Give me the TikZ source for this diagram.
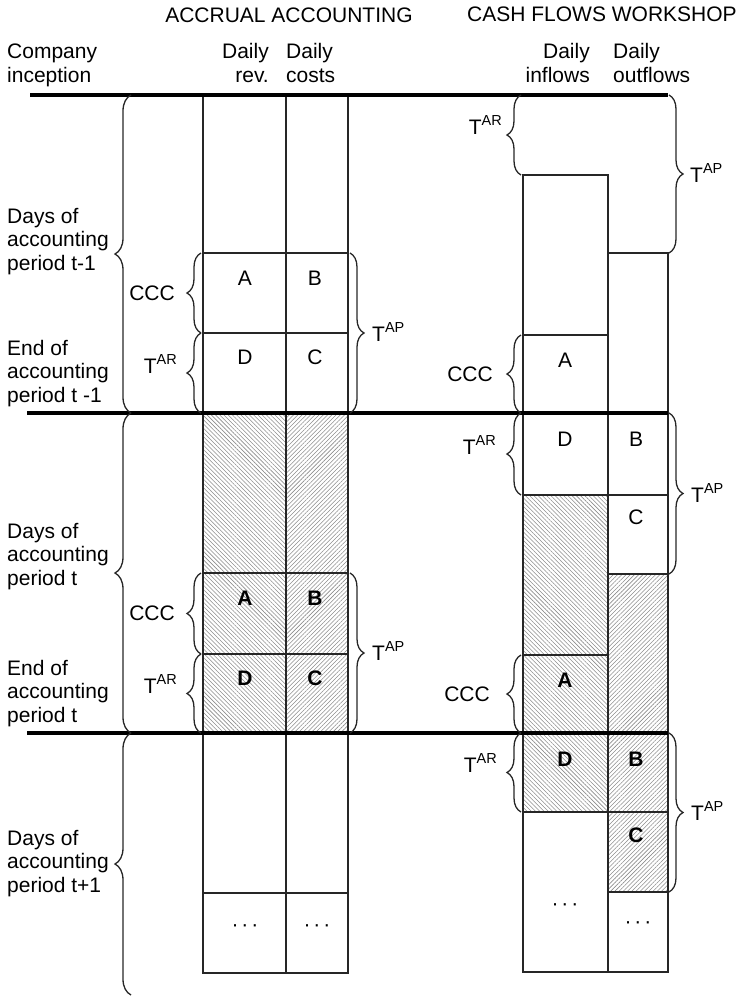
\documentclass[tikz,border=0pt]{standalone}
\usepackage{fontspec}
\setmainfont{Liberation Sans}
\usetikzlibrary{decorations.pathreplacing,patterns.meta}
\newcommand{\Tsup}[1]{T\raisebox{0.4em}{\fontsize{14.5}{14.5}\selectfont #1}}
\begin{document}
\begin{tikzpicture}[x=1pt,y=-1pt,
  box/.style={draw=black!85, line width=1.4pt},
  rule/.style={line width=3.2pt, draw=black},
  hatchL/.style={pattern={Lines[angle=-45,distance=3pt,line width=0.55pt]}, pattern color=black!45},
  hatchR/.style={pattern={Lines[angle=45,distance=3pt,line width=0.55pt]}, pattern color=black!45},
  lbl/.style={font=\fontsize{21}{23.5}\selectfont, inner sep=0pt},
  bold/.style={font=\fontsize{21}{23.5}\selectfont\bfseries, inner sep=0pt},
  brc/.style={decorate, decoration={brace, amplitude=14pt}, draw=black!85, line width=1.3pt},
  bigbrc/.style={decorate, decoration={brace, amplitude=16pt}, draw=black!85, line width=1.3pt},
]
\useasboundingbox (0,0) rectangle (741,997);

% ---------- accrual accounting columns ----------
% period t-1
\draw[box] (203,95) rectangle (286,413);
\draw[box] (286,95) rectangle (348,413);
\draw[box] (203,253) -- (348,253);
\draw[box] (203,333) -- (348,333);
% period t
\fill[hatchL] (203,413) rectangle (286,733);
\fill[hatchR] (286,413) rectangle (348,733);
\draw[box] (203,413) rectangle (286,733);
\draw[box] (286,413) rectangle (348,733);
\draw[box] (203,573) -- (348,573);
\draw[box] (203,654) -- (348,654);
% period t+1
\draw[box] (203,733) rectangle (286,973);
\draw[box] (286,733) rectangle (348,973);
\draw[box] (203,893) -- (348,893);

% ---------- cash flows columns ----------
% period t-1
\draw[box] (523,413) -- (523,175) -- (608,175) -- (608,413);
\draw[box] (608,253) -- (668,253) -- (668,413);
\draw[box] (523,335) -- (608,335);
% period t
\fill[hatchL] (523,495) rectangle (608,733);
\fill[hatchR] (608,574) rectangle (668,733);
\draw[box] (523,413) rectangle (608,733);
\draw[box] (608,413) rectangle (668,733);
\draw[box] (523,495) -- (668,495);
\draw[box] (523,655) -- (608,655);
\draw[box] (608,574) -- (668,574);
% period t+1
\fill[hatchL] (523,733) rectangle (608,812);
\fill[hatchR] (608,733) rectangle (668,892);
\draw[box] (523,733) rectangle (608,972);
\draw[box] (608,733) rectangle (668,972);
\draw[box] (523,812) -- (668,812);
\draw[box] (608,892) -- (668,892);

% ---------- period rules ----------
\draw[rule] (30,95) -- (668,95);
\draw[rule] (27,413) -- (668,413);
\draw[rule] (27,733) -- (668,733);

% ---------- braces ----------
\draw[bigbrc] (131,413) -- (131,95);
\draw[bigbrc] (131,733) -- (131,413);
\draw[bigbrc] (131,995) -- (131,733);
\draw[brc] (201,333) -- (201,253);
\draw[brc] (201,413) -- (201,333);
\draw[brc] (201,654) -- (201,573);
\draw[brc] (201,733) -- (201,654);
\draw[brc] (350,253) -- (350,413);
\draw[brc] (350,573) -- (350,733);
\draw[brc] (521,175) -- (521,95);
\draw[brc] (521,413) -- (521,335);
\draw[brc] (521,495) -- (521,413);
\draw[brc] (521,733) -- (521,655);
\draw[brc] (521,812) -- (521,733);
\draw[brc] (669,95) -- (669,253);
\draw[brc] (669,413) -- (669,574);
\draw[brc] (669,733) -- (669,892);

% ---------- headings ----------
\node[lbl, anchor=base] (h1) at (289,22) {ACCRUAL ACCOUNTING};
\node[lbl, anchor=base] (h2) at (602,21) {CASH FLOWS WORKSHOP};
\node[lbl, align=left, anchor=base west] (comp) at (7,82) {Company\\inception};
\node[lbl, align=right, anchor=base east] (rev) at (269,82) {Daily\\rev.};
\node[lbl, align=left, anchor=base west] (cost) at (286,82) {Daily\\costs};
\node[lbl, align=right, anchor=base east] (infl) at (590,82) {Daily\\inflows};
\node[lbl, align=left, anchor=base west] (outf) at (613,82) {Daily\\outflows};

% ---------- period labels ----------
\node[lbl, align=left, anchor=base west] (p1) at (7,270) {Days of\\accounting\\period t-1};
\node[lbl, align=left, anchor=base west] (e1) at (7,402) {End of\\accounting\\period t -1};
\node[lbl, align=left, anchor=base west] (p2) at (7,585) {Days of\\accounting\\period t};
\node[lbl, align=left, anchor=base west] (e2) at (7,722) {End of\\accounting\\period t};
\node[lbl, align=left, anchor=base west] (p3) at (7,892) {Days of\\accounting\\period t+1};

% ---------- brace labels ----------
\node[lbl, anchor=east] (ccc1) at (175,293) {CCC};
\node[lbl, anchor=base east] (tar1) at (177,373) {\Tsup{AR}};
\node[lbl, anchor=base west] (tap1) at (372,341) {\Tsup{AP}};
\node[lbl, anchor=east] (ccc2) at (175,613) {CCC};
\node[lbl, anchor=base east] (tar2) at (177,693) {\Tsup{AR}};
\node[lbl, anchor=base west] (tap2) at (372,660) {\Tsup{AP}};
\node[lbl, anchor=base east] (ctar1) at (502,134) {\Tsup{AR}};
\node[lbl, anchor=base west] (ctap1) at (690,182) {\Tsup{AP}};
\node[lbl, anchor=east] (cccc1) at (493,374) {CCC};
\node[lbl, anchor=base east] (ctar2) at (496,454) {\Tsup{AR}};
\node[lbl, anchor=base west] (ctap2) at (691,502) {\Tsup{AP}};
\node[lbl, anchor=east] (cccc2) at (490,694) {CCC};
\node[lbl, anchor=base east] (ctar3) at (497,772) {\Tsup{AR}};
\node[lbl, anchor=base west] (ctap3) at (691,820) {\Tsup{AP}};

% ---------- cell letters ----------
\node[lbl] (a1) at (245,278) {A};
\node[lbl] (b1) at (315,278) {B};
\node[lbl] (d1) at (245,357) {D};
\node[lbl] (c1) at (315,357) {C};
\node[bold] (a2) at (245,598) {A};
\node[bold] (b2) at (315,598) {B};
\node[bold] (d2) at (245,678) {D};
\node[bold] (c2) at (315,678) {C};
\node[lbl] (x1) at (245,928) {·\hspace{3pt}·\hspace{3pt}·};
\node[lbl] (x2) at (317,928) {·\hspace{3pt}·\hspace{3pt}·};
\node[lbl] (ca1) at (565,360) {A};
\node[lbl] (cd2) at (565,439) {D};
\node[lbl] (cb2) at (636,439) {B};
\node[lbl] (cc2) at (636,517) {C};
\node[bold] (ca2) at (565,680) {A};
\node[bold] (cd3) at (565,759) {D};
\node[bold] (cb3) at (636,759) {B};
\node[bold] (cc3) at (636,835) {C};
\node[lbl] (cx1) at (565,907) {·\hspace{3pt}·\hspace{3pt}·};
\node[lbl] (cx2) at (638,925) {·\hspace{3pt}·\hspace{3pt}·};
\end{tikzpicture}
\end{document}
